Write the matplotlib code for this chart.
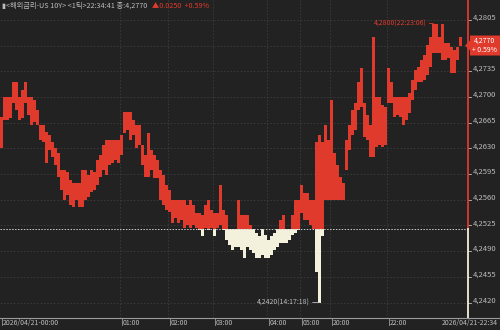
import numpy as np
import matplotlib
matplotlib.use("Agg")
import matplotlib.pyplot as plt
from matplotlib.lines import Line2D
from matplotlib.patches import Polygon

plt.rcParams['font.family'] = ['Noto Sans CJK KR', 'DejaVu Sans']

# ---- data (per-column high / low of the 1-tick US 10Y yield) ----
highs = [4.2673, 4.2700, 4.2700, 4.2700, 4.2720, 4.2720, 4.2700, 4.2709, 4.2720, 4.2700,
         4.2700, 4.2696, 4.2682, 4.2662, 4.2662, 4.2652, 4.2648, 4.2639, 4.2631, 4.2624,
         4.2601, 4.2601, 4.2598, 4.2587, 4.2583, 4.2583, 4.2583, 4.2601, 4.2601, 4.2594,
         4.2601, 4.2598, 4.2614, 4.2621, 4.2635, 4.2641, 4.2641, 4.2641, 4.2641, 4.2641,
         4.2648, 4.2680, 4.2680, 4.2680, 4.2669, 4.2662, 4.2662, 4.2635, 4.2621, 4.2651,
         4.2628, 4.2621, 4.2614, 4.2601, 4.2594, 4.2580, 4.2573, 4.2560, 4.2560, 4.2560,
         4.2560, 4.2560, 4.2553, 4.2560, 4.2553, 4.2542, 4.2542, 4.2539, 4.2553, 4.2560,
         4.2546, 4.2542, 4.2542, 4.2580, 4.2546, 4.2539, 4.2520, 4.2520, 4.2520, 4.2560,
         4.2539, 4.2539, 4.2539, 4.2526, 4.2520, 4.2515, 4.2510, 4.2520, 4.2512, 4.2505,
         4.2510, 4.2515, 4.2520, 4.2533, 4.2539, 4.2520, 4.2520, 4.2539, 4.2560, 4.2560,
         4.2580, 4.2569, 4.2569, 4.2560, 4.2560, 4.2639, 4.2648, 4.2639, 4.2662, 4.2641,
         4.2696, 4.2624, 4.2607, 4.2591, 4.2583, 4.2641, 4.2662, 4.2682, 4.2692, 4.2720,
         4.2739, 4.2692, 4.2675, 4.2662, 4.2782, 4.2700, 4.2700, 4.2689, 4.2686, 4.2739,
         4.2720, 4.2700, 4.2700, 4.2700, 4.2700, 4.2700, 4.2705, 4.2723, 4.2737, 4.2741,
         4.2750, 4.2757, 4.2771, 4.2782, 4.2800, 4.2800, 4.2782, 4.2800, 4.2773, 4.2773,
         4.2768, 4.2764, 4.2768, 4.2782]
lows = [4.2631, 4.2669, 4.2669, 4.2671, 4.2692, 4.2682, 4.2669, 4.2671, 4.2692, 4.2675,
        4.2662, 4.2666, 4.2662, 4.2641, 4.2639, 4.2610, 4.2628, 4.2618, 4.2607, 4.2591,
        4.2573, 4.2560, 4.2567, 4.2553, 4.2550, 4.2560, 4.2550, 4.2550, 4.2560, 4.2564,
        4.2571, 4.2573, 4.2580, 4.2591, 4.2601, 4.2594, 4.2607, 4.2610, 4.2614, 4.2610,
        4.2621, 4.2651, 4.2655, 4.2641, 4.2648, 4.2631, 4.2635, 4.2607, 4.2591, 4.2591,
        4.2601, 4.2590, 4.2590, 4.2560, 4.2553, 4.2546, 4.2544, 4.2529, 4.2535, 4.2529,
        4.2533, 4.2522, 4.2526, 4.2522, 4.2526, 4.2522, 4.2519, 4.2510, 4.2522, 4.2519,
        4.2522, 4.2510, 4.2522, 4.2526, 4.2519, 4.2505, 4.2499, 4.2492, 4.2495, 4.2496,
        4.2492, 4.2481, 4.2495, 4.2492, 4.2488, 4.2481, 4.2481, 4.2485, 4.2481, 4.2481,
        4.2485, 4.2492, 4.2495, 4.2501, 4.2501, 4.2501, 4.2505, 4.2512, 4.2515, 4.2519,
        4.2542, 4.2533, 4.2533, 4.2526, 4.2520, 4.2461, 4.2420, 4.2510, 4.2560, 4.2560,
        4.2560, 4.2560, 4.2560, 4.2560, 4.2560, 4.2601, 4.2628, 4.2648, 4.2655, 4.2682,
        4.2686, 4.2646, 4.2641, 4.2618, 4.2618, 4.2632, 4.2635, 4.2632, 4.2635, 4.2692,
        4.2692, 4.2673, 4.2675, 4.2673, 4.2662, 4.2669, 4.2678, 4.2696, 4.2709, 4.2720,
        4.2720, 4.2723, 4.2730, 4.2741, 4.2760, 4.2760, 4.2760, 4.2750, 4.2750, 4.2753,
        4.2733, 4.2733, 4.2750, 4.2770]

prev_close = 4.2520
last_price = 4.2770
change = 0.0250
change_pct = 0.59
high_val, high_time, high_idx = 4.2800, "22:23:06", 144
low_val, low_time, low_idx = 4.2420, "14:17:18", 106

y_ticks = [4.2420, 4.2455, 4.2490, 4.2525, 4.2560, 4.2595, 4.2630,
           4.2665, 4.2700, 4.2735, 4.2770, 4.2805]
x_tick_idx = [0, 40, 56, 71, 89, 100, 110, 129]
x_tick_labels = ["2026/04/21-00:00", "01:00", "02:00", "03:00",
                 "04:00", "05:00", "20:00", "22:00"]
end_label = "2026/04/21-22:34"
header_main = "\u25ae<해외금리-US 10Y> <1틱>22:34:41 종:4,2770"

# ---- style ----
BG = "#222222"
RED = "#e03a2d"
CREAM = "#f3f1dc"
GRID = "#3c3c3c"
TXT = "#bcbcbc"
W, H = 500, 330

fig = plt.figure(figsize=(W / 100, H / 100), dpi=100, facecolor=BG)
ax = fig.add_axes([0, 12 / H, 468 / W, 318 / H])
ax.set_facecolor(BG)
n = len(highs)
xmax = 156
ax.set_xlim(0, xmax)
ax.set_ylim(4.2399, 4.2832)
for s in ax.spines.values():
    s.set_visible(False)
ax.set_xticks([])
ax.set_yticks([])

# grid
for v in y_ticks:
    if abs(v - prev_close) > 1e-6:
        ax.axhline(v, color=GRID, lw=0.6, ls=(0, (2, 2)), zorder=0)
for xi in x_tick_idx[1:]:
    ax.axvline(xi, color=GRID, lw=0.6, ls=(0, (2, 2)), zorder=0)

# price band split at previous close
x = np.arange(n + 1)
h = np.append(highs, highs[-1])
l = np.append(lows, lows[-1])
ax.fill_between(x, np.maximum(l, prev_close), np.maximum(h, prev_close),
                step='post', color=RED, lw=0, zorder=2)
ax.fill_between(x, np.minimum(l, prev_close), np.minimum(h, prev_close),
                step='post', color=CREAM, lw=0, zorder=2)

# baseline
ax.axhline(prev_close, color="#cfcfcf", lw=0.7, ls=(0, (1.5, 1.5)), zorder=3)

# right border coloured by side
y0, y1 = ax.get_ylim()
ax.plot([xmax, xmax], [prev_close, y1], color=RED, lw=1.3, clip_on=False, zorder=4)
ax.plot([xmax, xmax], [y0, prev_close], color=CREAM, lw=1.3, clip_on=False, zorder=4)

# y labels (the one at the last price is hidden behind the price tag)
for v in y_ticks:
    ax.plot([xmax, xmax + 0.9], [v, v], color=TXT, lw=0.6, clip_on=False)
    if abs(v - last_price) < 1e-6:
        continue
    ax.annotate(f"{v:.4f}".replace(".", ","), xy=(1, v),
                xycoords=('axes fraction', 'data'), xytext=(3.2, 1.5),
                textcoords='offset points', ha='left', va='center',
                fontsize=5.5, color=TXT, annotation_clip=False)

# bottom axis line and ticks
fig.add_artist(Line2D([0, 1], [12 / H, 12 / H], color="#9a9a9a", lw=0.8))
for xi, lab in zip(x_tick_idx, x_tick_labels):
    xf = (xi * 3 + 1.5) / W
    fig.add_artist(Line2D([xf, xf], [12 / H, 5 / H], color="#9a9a9a", lw=0.6))
    fig.text(xf + 1.5 / W, 7 / H, lab, fontsize=5, color=TXT, ha='left', va='center')
fig.text(498 / W, 7 / H, end_label, fontsize=5, color=TXT, ha='right', va='center')

# high / low annotations
ax.annotate(f"{high_val:.4f}({high_time})".replace(".", ","),
            xy=(high_idx + 0.5, high_val), xytext=(-5, 0), textcoords='offset points',
            ha='right', va='center', fontsize=5, color=RED,
            arrowprops=dict(arrowstyle='-', color=RED, lw=0.6, shrinkA=0, shrinkB=0))
ax.annotate(f"{low_val:.4f}({low_time})".replace(".", ","),
            xy=(low_idx + 0.5, low_val), xytext=(-7, 0), textcoords='offset points',
            ha='right', va='center', fontsize=5, color=TXT,
            arrowprops=dict(arrowstyle='-', color=TXT, lw=0.6, shrinkA=0, shrinkB=0))

# price tag
def P(px, py):
    return (px / W, 1 - py / H)
ytag = 229.3 - (last_price - prev_close) * 7351
tag = Polygon([P(465, ytag), P(470, ytag - 5), P(470, ytag - 10), P(500, ytag - 10),
               P(500, ytag + 10), P(470, ytag + 10), P(470, ytag + 5)],
              closed=True, transform=fig.transFigure, facecolor=RED, edgecolor='none',
              zorder=10)
fig.add_artist(tag)
fig.text(485 / W, 1 - (ytag - 4.6) / H, f"{last_price:.4f}".replace(".", ","),
         fontsize=5, color="white", ha='center', va='center', zorder=11)
fig.text(485 / W, 1 - (ytag + 4.8) / H, f"+ {change_pct:.2f}%",
         fontsize=5, color="white", ha='center', va='center', zorder=11)

# header
fig.text(2 / W, 1 - 6 / H, header_main, fontsize=5.2, color=TXT, ha='left', va='center')
fig.text(152 / W, 1 - 6 / H, f"\u25b2{change:.4f}  +{change_pct:.2f}%",
         fontsize=5.2, color=RED, ha='left', va='center')

fig.savefig("out.png", dpi=100, facecolor=BG)
